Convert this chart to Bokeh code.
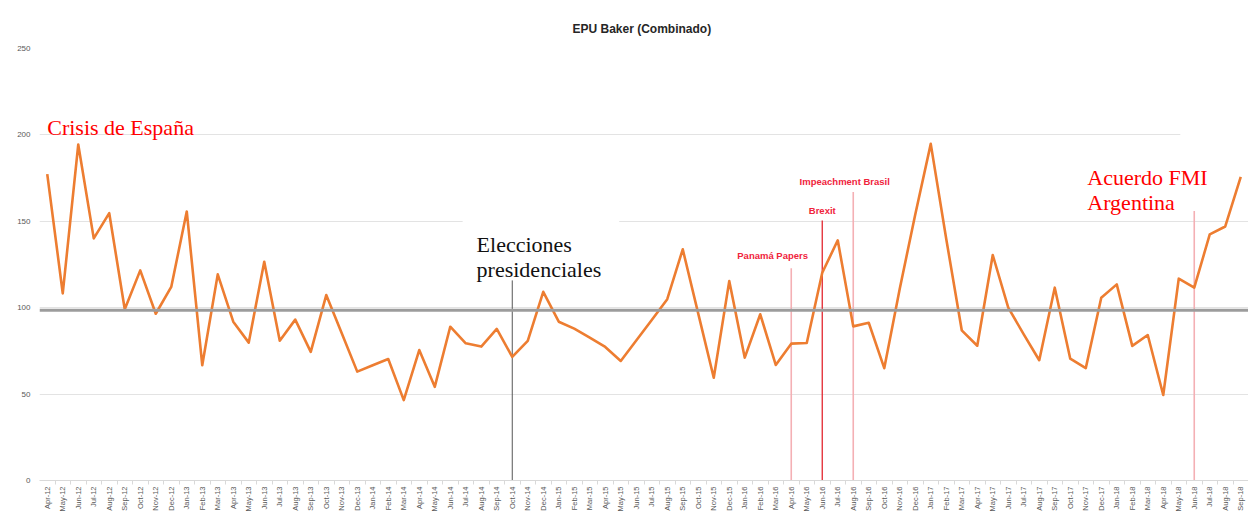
import numpy as np
from bokeh.plotting import figure
from bokeh.models import Range1d, FixedTicker, Span
from bokeh.core.properties import value
from bokeh.embed import file_html
from bokeh.resources import INLINE

# ---------------- data ----------------
meses = [
    "Apr-12", "May-12", "Jun-12", "Jul-12", "Aug-12", "Sep-12", "Oct-12", "Nov-12", "Dec-12",
    "Jan-13", "Feb-13", "Mar-13", "Apr-13", "May-13", "Jun-13", "Jul-13", "Aug-13", "Sep-13", "Oct-13", "Nov-13", "Dec-13",
    "Jan-14", "Feb-14", "Mar-14", "Apr-14", "May-14", "Jun-14", "Jul-14", "Aug-14", "Sep-14", "Oct-14", "Nov-14", "Dec-14",
    "Jan-15", "Feb-15", "Mar-15", "Apr-15", "May-15", "Jun-15", "Jul-15", "Aug-15", "Sep-15", "Oct-15", "Nov-15", "Dec-15",
    "Jan-16", "Feb-16", "Mar-16", "Apr-16", "May-16", "Jun-16", "Jul-16", "Aug-16", "Sep-16", "Oct-16", "Nov-16", "Dec-16",
    "Jan-17", "Feb-17", "Mar-17", "Apr-17", "May-17", "Jun-17", "Jul-17", "Aug-17", "Sep-17", "Oct-17", "Nov-17", "Dec-17",
    "Jan-18", "Feb-18", "Mar-18", "Apr-18", "May-18", "Jun-18", "Jul-18", "Aug-18", "Sep-18",
]

epu = [
    177.3, 108.3, 194.4, 140.1, 154.7, 99.1, 121.6, 96.5, 112.0,
    155.7, 66.7, 119.3, 91.9, 79.8, 126.6, 80.9, 93.1, 74.4, 107.3, 85.2, 63.0,
    66.7, 70.3, 46.5, 75.5, 54.2, 89.0, 79.4, 77.5, 87.7, 71.5, 80.8, 109.2,
    91.9, 87.9, 82.7, 77.3, 69.2, 81.0, 92.9, 104.9, 133.8, 96.6, 59.5, 115.4,
    71.1, 96.2, 66.9, 79.2, 79.6, 120.2, 139.0, 89.2, 91.3, 65.0, 111.0, 153.9,
    194.8, 139.8, 86.9, 78.0, 130.5, 100.0, 84.6, 69.6, 111.6, 70.5, 65.0, 105.8,
    113.5, 77.9, 84.2, 49.5, 116.8, 111.6, 142.4, 147.0, 175.7,
]

referencia = 98.5          # horizontal reference line
y_ticks = [0, 50, 100, 150, 200, 250]

# events (marked with vertical lines)
eventos_mes = ["Oct-14", "Apr-16", "Jun-16", "Aug-16", "Jun-18"]
eventos_etiqueta = ["Elecciones presidenciales", "Panamá Papers", "Brexit",
                    "Impeachment Brasil", "Acuerdo FMI Argentina"]

# ---------------- layout / style constants ----------------
ORANGE = "#ED7D31"
GRID = "#e3e3e3"
TICK_TXT = "#595959"
idx = {m: i for i, m in enumerate(meses)}
x = np.arange(len(meses))

p = figure(width=1248, height=514,
           x_range=Range1d(-0.5, len(meses) - 0.5), y_range=Range1d(0, 250),
           output_backend="svg", toolbar_location=None,
           min_border_left=39, min_border_right=0, min_border_top=48, min_border_bottom=34,
           title="EPU Baker (Combinado)")
p.outline_line_color = None
p.background_fill_color = "white"
p.border_fill_color = "white"

p.title.align = "left"
p.title.offset = 533
p.title.text_font = "Liberation Sans"
p.title.text_font_size = "12px"
p.title.text_font_style = "bold"
p.title.text_color = "#262626"
p.title.standoff = 26

# y axis
p.yaxis.ticker = FixedTicker(ticks=y_ticks)
p.yaxis.axis_line_color = None
p.yaxis.major_tick_line_color = None
p.yaxis.minor_tick_line_color = None
p.yaxis.major_tick_out = 0
p.yaxis.minor_tick_out = 0
p.yaxis.major_label_text_font = "Liberation Sans"
p.yaxis.major_label_text_font_size = "8px"
p.yaxis.major_label_text_color = TICK_TXT
p.yaxis.major_label_standoff = 9
p.ygrid.grid_line_color = GRID
p.ygrid.grid_line_width = 1

# x axis (month labels, tick marks between categories)
p.xaxis.ticker = FixedTicker(ticks=list(x), minor_ticks=list(x[:-1] + 0.5))
p.xaxis.major_label_overrides = {int(i): m for i, m in enumerate(meses)}
p.xaxis.major_label_orientation = np.pi / 2
p.xaxis.axis_line_color = "#d9d9d9"
p.xaxis.major_tick_line_color = None
p.xaxis.major_tick_out = 0
p.xaxis.major_tick_in = 0
p.xaxis.minor_tick_line_color = "#d9d9d9"
p.xaxis.minor_tick_out = 4
p.xaxis.minor_tick_in = 0
p.xaxis.major_label_standoff = 2
p.xaxis.major_label_text_font = "Liberation Sans"
p.xaxis.major_label_text_font_size = "7.5px"
p.xaxis.major_label_text_color = TICK_TXT
p.xgrid.grid_line_color = None

# white boxes behind the text boxes (hide gridline pieces like the original)
p.quad(left=[26.8, 73.1], right=[36.9, 77.6], bottom=[116, 196], top=[152, 204],
       fill_color="white", line_color=None)

# reference line
p.add_layout(Span(location=referencia, dimension="width",
                  line_color="#9c9c9c", line_width=3))

# event vertical lines
ev_x = [idx[m] for m in eventos_mes]
ev_top = [115.8, 122.8, 150.5, 167.0, 155.9]
ev_color = ["#555555", "#f4b0b4", "#e3262f", "#f4b0b4", "#f4b0b4"]
ev_width = [1, 1.6, 1.3, 1.6, 1.6]
p.segment(x0=ev_x, y0=[0] * len(ev_x), x1=ev_x, y1=ev_top,
          line_color=ev_color, line_width=ev_width)

# main series
p.line(x, epu, line_color=ORANGE, line_width=2.6, line_join="round")

# big serif annotations
serif = value("Liberation Serif")
p.text(x=[0], y=[204.5], text=["Crisis de España"], text_font=serif,
       text_font_size="22px", text_color="#ff0000",
       text_align="left", text_baseline="alphabetic")
ex = idx[eventos_mes[0]] - 2.3
p.text(x=[ex, ex], y=[136.6, 122.2], text=eventos_etiqueta[0].split(" "),
       text_font=serif, text_font_size="22px", text_color="#111111",
       text_align="left", text_baseline="alphabetic")
fx = idx[eventos_mes[4]] - 6.9
p.text(x=[fx, fx], y=[175.1, 160.7], text=["Acuerdo FMI", "Argentina"],
       text_font=serif, text_font_size="22px", text_color="#ff0000",
       text_align="left", text_baseline="alphabetic")

# small bold event labels
sx = [idx[eventos_mes[1]] - 1.2, idx[eventos_mes[2]], idx[eventos_mes[3]] - 0.55]
sy = [130.3, 156.3, 173.0]
p.text(x=sx, y=sy, text=eventos_etiqueta[1:4], text_font=value("Liberation Sans"),
       text_font_size="9.5px", text_font_style="bold", text_color="#f0243c",
       text_align="center", text_baseline="middle")

open("out.html", "w").write(file_html(p, INLINE))
